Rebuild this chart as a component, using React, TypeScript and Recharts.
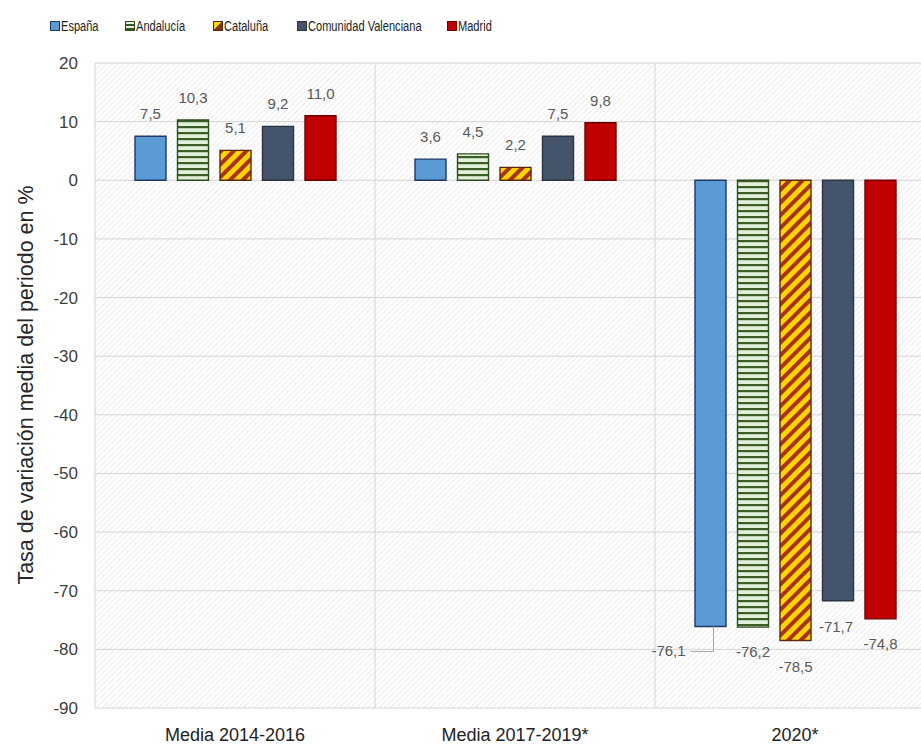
import React from 'react';
import { BarChart, Bar, XAxis, YAxis, CartesianGrid, LabelList } from 'recharts';

const categorias = ['Media 2014-2016', 'Media 2017-2019*', '2020*'];
const espana = [7.5, 3.6, -76.1];
const andalucia = [10.3, 4.5, -76.2];
const cataluna = [5.1, 2.2, -78.5];
const valenciana = [9.2, 7.5, -71.7];
const madrid = [11.0, 9.8, -74.8];
const ticksY = [20, 10, 0, -10, -20, -30, -40, -50, -60, -70, -80, -90];

const FUENTE = "'Liberation Sans', Arial, sans-serif";

const dados = categorias.map((nome, i) => ({
  nome,
  espana: espana[i],
  andalucia: andalucia[i],
  cataluna: cataluna[i],
  valenciana: valenciana[i],
  madrid: madrid[i],
}));

const SERIES = [
  { key: 'espana', nome: 'España', fill: '#5b9bd5', stroke: '#1f3864', legendX: 50, negDx: -42 },
  { key: 'andalucia', nome: 'Andalucía', fill: 'url(#rayasVerdes)', stroke: '#2f4a1c', legendX: 125, negDx: 0 },
  { key: 'cataluna', nome: 'Cataluña', fill: 'url(#rayasAmarillas)', stroke: '#5a2a0a', legendX: 213, negDx: 0 },
  { key: 'valenciana', nome: 'Comunidad Valenciana', fill: '#44546a', stroke: '#2a3442', legendX: 297, negDx: -2 },
  { key: 'madrid', nome: 'Madrid', fill: '#c00000', stroke: '#6e0000', legendX: 447, negDx: 0 },
];

// desplazamiento vertical de las etiquetas negativas (como en el original)
const NEG_DY: Record<string, number> = { espana: 30, andalucia: 30, cataluna: 31, valenciana: 31, madrid: 30 };

const fmt = (v: number) => v.toFixed(1).replace('.', ',');

const makeLabel = (key: string, negDx: number, conLinea: boolean) => (props: any) => {
  const { x, y, width, height, value } = props;
  const cx = x + width / 2;
  if (value >= 0) {
    return (
      <text x={cx} y={Math.min(y, y + height) - 17} textAnchor="middle" fontSize={15} fill="#595959" fontFamily={FUENTE}>
        {fmt(value)}
      </text>
    );
  }
  const bottom = Math.max(y, y + height);
  const lx = cx + negDx;
  const ly = bottom + NEG_DY[key];
  return (
    <g>
      {conLinea && (
        <polyline
          points={`${lx + 22},${ly - 5} ${cx + 3},${ly - 5} ${cx + 3},${bottom}`}
          fill="none"
          stroke="#a6a6a6"
          strokeWidth={1}
        />
      )}
      <text x={lx} y={ly} textAnchor="middle" fontSize={15} fill="#595959" fontFamily={FUENTE}>
        {fmt(value)}
      </text>
    </g>
  );
};

const LeyendaIcono = ({ s }: { s: (typeof SERIES)[number] }) => {
  let bg: string = s.fill;
  if (s.key === 'andalucia') bg = 'repeating-linear-gradient(0deg, #375623 0 2px, #e2f0d9 2px 4px)';
  if (s.key === 'cataluna') bg = 'linear-gradient(135deg, #ffd700 50%, #7a3a10 50%)';
  return (
    <span
      style={{
        display: 'inline-block',
        width: 8,
        height: 8,
        background: bg,
        border: `1px solid ${s.stroke}`,
        marginRight: 1,
      }}
    />
  );
};

export default function App() {
  return (
    <div style={{ position: 'absolute', left: 0, top: 0, width: 921, height: 747, background: '#fff', overflow: 'hidden' }}>
      {SERIES.map((s) => (
        <div
          key={s.key}
          style={{
            position: 'absolute',
            left: s.legendX,
            top: 18,
            fontFamily: FUENTE,
            fontSize: 14,
            color: '#222',
            display: 'flex',
            alignItems: 'center',
            whiteSpace: 'nowrap',
          }}
        >
          <LeyendaIcono s={s} />
          <span style={{ display: 'inline-block', transform: 'scaleX(0.79)', transformOrigin: 'left center' }}>{s.nome}</span>
        </div>
      ))}
      <BarChart
        width={921}
        height={747}
        data={dados}
        margin={{ top: 63, right: -14, left: 0, bottom: 0 }}
        barSize={31}
        barGap={11.5}
      >
        <defs>
          <pattern id="fondo" width="4" height="4" patternUnits="userSpaceOnUse" patternTransform="rotate(45)">
            <rect width="4" height="4" fill="#ffffff" />
            <line x1="0" y1="0" x2="0" y2="4" stroke="#e6e6e6" strokeWidth="1.5" />
          </pattern>
          <pattern id="rayasVerdes" width="6" height="6" patternUnits="userSpaceOnUse">
            <rect width="6" height="6" fill="#e2f0d9" />
            <rect width="6" height="2.2" fill="#3b5e26" />
          </pattern>
          <pattern id="rayasAmarillas" width="9" height="9" patternUnits="userSpaceOnUse" patternTransform="rotate(45)">
            <rect width="9" height="9" fill="#ffd400" />
            <rect width="4" height="9" fill="#a8321c" />
          </pattern>
        </defs>
        <CartesianGrid
          fill="url(#fondo)"
          stroke="#d4d4d4"
          verticalCoordinatesGenerator={({ offset }: any) => [
            offset.left,
            offset.left + offset.width / 3,
            offset.left + (2 * offset.width) / 3,
            offset.left + offset.width,
          ]}
        />
        <XAxis
          dataKey="nome"
          height={39}
          axisLine={false}
          tickLine={false}
          tickSize={0}
          tickMargin={20}
          tick={{ fontSize: 18, fill: '#222', fontFamily: FUENTE }}
        />
        <YAxis
          domain={[-90, 20]}
          ticks={ticksY}
          width={95}
          axisLine={false}
          tickLine={false}
          tickSize={0}
          tickMargin={17}
          interval={0}
          tick={{ fontSize: 17, fill: '#404040', fontFamily: FUENTE }}
          label={() => (
            <text
              x={27}
              y={385}
              transform="rotate(-90 27 385)"
              textAnchor="middle"
              dominantBaseline="middle"
              fontSize={21.5}
              fill="#262626"
              fontFamily={FUENTE}
            >
              Tasa de variación media del periodo en %
            </text>
          )}
        />
        {SERIES.map((s) => (
          <Bar key={s.key} dataKey={s.key} name={s.nome} fill={s.fill} stroke={s.stroke} strokeWidth={1.4} isAnimationActive={false}>
            <LabelList dataKey={s.key} content={makeLabel(s.key, s.negDx, s.key === 'espana')} />
          </Bar>
        ))}
      </BarChart>
    </div>
  );
}
